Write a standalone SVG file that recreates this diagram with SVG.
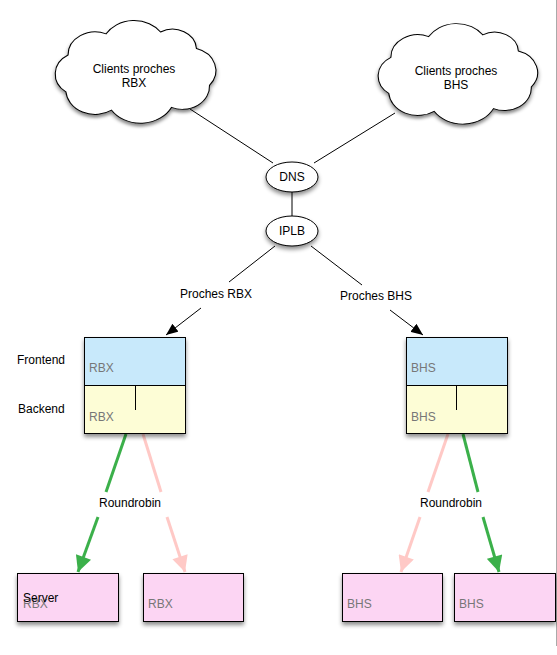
<svg xmlns="http://www.w3.org/2000/svg" width="557" height="655" viewBox="0 0 557 655">
<defs>
<filter id="sh" x="-20%" y="-20%" width="140%" height="150%">
<feDropShadow dx="0" dy="3" stdDeviation="2" flood-color="#000" flood-opacity="0.45"/>
</filter>
<marker id="ab" viewBox="0 0 12 10" refX="12" refY="5" markerWidth="12" markerHeight="10" markerUnits="userSpaceOnUse" orient="auto">
<path d="M0,0 L12,5 L0,10 Z" fill="#000"/>
</marker>
<marker id="ag" viewBox="0 0 10 10" refX="10" refY="5" markerWidth="18" markerHeight="16" markerUnits="userSpaceOnUse" orient="auto">
<path d="M0,0 L10,5 L0,10 Z" fill="#3bb04a"/>
</marker>
<marker id="ap" viewBox="0 0 10 10" refX="10" refY="5" markerWidth="18" markerHeight="16" markerUnits="userSpaceOnUse" orient="auto">
<path d="M0,0 L10,5 L0,10 Z" fill="#ffc9c6"/>
</marker>
<path id="cloud" d="M20,35 A25,25 0 0 1 55,12 A30,30 0 0 1 105,10 A22,22 0 0 1 138,28 A25,25 0 0 1 150,68 A25,25 0 0 1 115,92 A32,32 0 0 1 60,95 A27,27 0 0 1 18,75 A24,24 0 0 1 20,35 Z"/>
</defs>
<style>
text{font-family:"Liberation Sans",Arial,sans-serif;font-size:12px;fill:#000}
.g{fill:#777}
.c{text-anchor:middle}
.cl{fill:#fff;stroke:#000;stroke-width:1}
.ln{stroke:#000;stroke-width:1;fill:none}
.fe{fill:#c8e9fb;stroke:#000;stroke-width:1}
.be{fill:#fdfdd6;stroke:#000;stroke-width:1}
.sv{fill:#fcd5f3;stroke:#000;stroke-width:1}
.gr{stroke:#3bb04a;stroke-width:3;fill:none}
.pk{stroke:#ffc9c6;stroke-width:3;fill:none}
</style>
<rect width="557" height="655" fill="#fff"/>
<line x1="556.5" y1="0" x2="556.5" y2="646" stroke="#aaa" stroke-width="1"/>
<g id="connectors">
<line class="ln" x1="190" y1="109" x2="273" y2="163"/>
<line class="ln" x1="395" y1="113" x2="314" y2="163"/>
<line class="ln" x1="292" y1="192" x2="292" y2="216"/>
<line class="ln" x1="275" y1="246" x2="229" y2="282"/>
<line class="ln" x1="201" y1="308" x2="166" y2="335" marker-end="url(#ab)"/>
<line class="ln" x1="311" y1="246" x2="362" y2="285"/>
<line class="ln" x1="390" y1="310" x2="423" y2="335" marker-end="url(#ab)"/>
<line class="gr" x1="126" y1="434" x2="106" y2="492"/>
<line class="gr" x1="98" y1="517" x2="78" y2="572" marker-end="url(#ag)"/>
<line class="pk" x1="143" y1="434" x2="161" y2="492"/>
<line class="pk" x1="167" y1="517" x2="185" y2="572" marker-end="url(#ap)"/>
<line class="pk" x1="448" y1="434" x2="428" y2="492"/>
<line class="pk" x1="420" y1="517" x2="401" y2="572" marker-end="url(#ap)"/>
<line class="gr" x1="463" y1="434" x2="478" y2="492"/>
<line class="gr" x1="483" y1="517" x2="499" y2="572" marker-end="url(#ag)"/>
<text class="c" x="216" y="298">Proches RBX</text>
<text class="c" x="376" y="300">Proches BHS</text>
<text class="c" x="130" y="507">Roundrobin</text>
<text class="c" x="451" y="507">Roundrobin</text>
</g>
<g id="cloud-rbx">
<use href="#cloud" class="cl" filter="url(#sh)" transform="translate(46.3,22.8) scale(1.088,0.92)" vector-effect="non-scaling-stroke"/>
<text class="c" x="134" y="73">Clients proches</text>
<text class="c" x="134" y="87">RBX</text>
</g>
<g id="cloud-bhs">
<use href="#cloud" class="cl" filter="url(#sh)" transform="translate(369.3,25.8) scale(1.08,0.9)"/>
<text class="c" x="456" y="75">Clients proches</text>
<text class="c" x="456" y="89">BHS</text>
</g>
<g id="dns">
<ellipse class="cl" cx="292" cy="177" rx="26" ry="15" filter="url(#sh)"/>
<text class="c" x="292" y="181">DNS</text>
</g>
<g id="iplb">
<ellipse class="cl" cx="292" cy="231" rx="26" ry="15" filter="url(#sh)"/>
<text class="c" x="292" y="235">IPLB</text>
</g>
<g id="labels">
<text x="17" y="364">Frontend</text>
<text x="18" y="413">Backend</text>
</g>
<g id="stack-rbx">
<g filter="url(#sh)">
<rect class="fe" x="84.5" y="337.5" width="101" height="48"/>
<rect class="be" x="84.5" y="385.5" width="101" height="48"/>
</g>
<line class="ln" x1="135.5" y1="385" x2="135.5" y2="410"/>
<text class="g" x="89" y="372">RBX</text>
<text class="g" x="89" y="421">RBX</text>
</g>
<g id="stack-bhs">
<g filter="url(#sh)">
<rect class="fe" x="406.5" y="337.5" width="101" height="48"/>
<rect class="be" x="406.5" y="385.5" width="101" height="48"/>
</g>
<line class="ln" x1="456.5" y1="385" x2="456.5" y2="410"/>
<text class="g" x="411" y="372">BHS</text>
<text class="g" x="411" y="421">BHS</text>
</g>
<g id="server-rbx-1">
<rect class="sv" x="17.5" y="573.5" width="101" height="48" filter="url(#sh)"/>
<text class="g" x="23" y="608">RBX</text>
<text x="23" y="602">Server</text>
</g>
<g id="server-rbx-2">
<rect class="sv" x="143.5" y="573.5" width="100" height="48" filter="url(#sh)"/>
<text class="g" x="148" y="608">RBX</text>
</g>
<g id="server-bhs-1">
<rect class="sv" x="342.5" y="573.5" width="100" height="48" filter="url(#sh)"/>
<text class="g" x="347" y="608">BHS</text>
</g>
<g id="server-bhs-2">
<rect class="sv" x="454.5" y="573.5" width="101" height="48" filter="url(#sh)"/>
<text class="g" x="459" y="608">BHS</text>
</g>
</svg>
